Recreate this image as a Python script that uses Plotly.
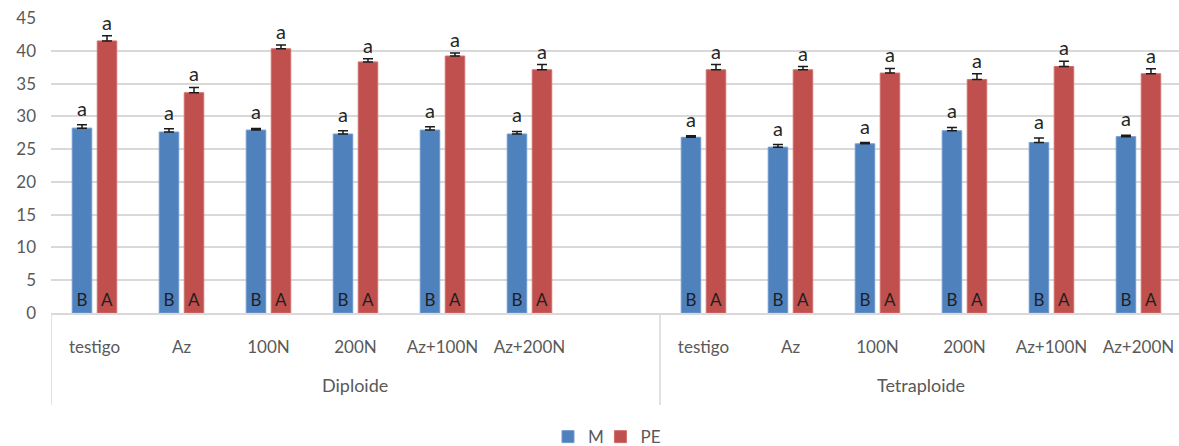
import plotly.graph_objects as go

# Treatments within each ploidy group
treatments = ["testigo", "Az", "100N", "200N", "Az+100N", "Az+200N"]
groups = ["Diploide", "Tetraploide"]
series_names = ["M", "PE"]

# Means and standard errors per treatment
m_diploide = [28.2, 27.6, 27.9, 27.3, 27.9, 27.3]
m_diploide_err = [0.5, 0.5, 0.25, 0.5, 0.5, 0.4]
pe_diploide = [41.5, 33.6, 40.3, 38.3, 39.2, 37.1]
pe_diploide_err = [0.8, 0.8, 0.6, 0.5, 0.45, 0.8]

m_tetraploide = [26.8, 25.3, 25.8, 27.8, 26.0, 26.9]
m_tetraploide_err = [0.25, 0.4, 0.2, 0.5, 0.7, 0.2]
pe_tetraploide = [37.1, 37.1, 36.6, 35.6, 37.6, 36.5]
pe_tetraploide_err = [0.8, 0.5, 0.7, 0.9, 0.8, 0.75]

# Significance letters: within treatment (lower case) and between series (upper case)
m_letters = ["a"] * 12
pe_letters = ["a"] * 12
m_group_letter = "B"
pe_group_letter = "A"

# Category slots: six treatments, one empty slot, six treatments
positions = list(range(0, 6)) + list(range(7, 13))
tick_text = treatments + treatments

m_vals = m_diploide + m_tetraploide
m_err = m_diploide_err + m_tetraploide_err
pe_vals = pe_diploide + pe_tetraploide
pe_err = pe_diploide_err + pe_tetraploide_err

BLUE = "#4F81BD"
RED = "#C0504D"
GRID = "#d9d9d9"
AXIS_TXT = "#595959"
FONT = "Lato"

fig = go.Figure()

for name, vals, errs, color, line_color, letter, leg in [
    ("M", m_vals, m_err, BLUE, "#6f9ad0", m_group_letter, "legend"),
    ("PE", pe_vals, pe_err, RED, "#d06f6c", pe_group_letter, "legend2"),
]:
    fig.add_trace(go.Bar(
        name=name,
        legend=leg,
        x=positions,
        y=vals,
        marker=dict(color=color, line=dict(color=line_color, width=1)),
        # upper error bar only, as a "T" on top of each bar
        error_y=dict(type="data", array=errs, arrayminus=[0] * len(errs),
                     symmetric=False, visible=True,
                     color="#1a1a1a", thickness=1.5, width=5),
        text=[letter] * len(vals),
        textposition="inside",
        insidetextanchor="start",
        textangle=0,
        constraintext="none",
        textfont=dict(family=FONT, size=17, color="#1f1f1f"),
        hoverinfo="x+y",
    ))

# Lower-case letters above each error bar
bar_shift = 12.5
for i, x in enumerate(positions):
    fig.add_annotation(x=x, y=m_vals[i] + m_err[i], text=m_letters[i],
                       xshift=-bar_shift, yshift=17, yanchor="middle",
                       showarrow=False,
                       font=dict(family=FONT, size=20, color="#262626"))
    fig.add_annotation(x=x, y=pe_vals[i] + pe_err[i], text=pe_letters[i],
                       xshift=bar_shift, yshift=14, yanchor="middle",
                       showarrow=False,
                       font=dict(family=FONT, size=20, color="#262626"))

# Group labels under the treatment labels
group_centers = [3, 9.5]
for g, cx in zip(groups, group_centers):
    fig.add_annotation(x=cx, y=-0.245, xref="x", yref="paper", text=g,
                       showarrow=False, yanchor="middle",
                       font=dict(family=FONT, size=18, color=AXIS_TXT))

# Group dividers of the category axis
for xd in [-0.5, 6.5, 12.5]:
    fig.add_shape(type="line", xref="x", yref="paper",
                  x0=xd, x1=xd, y0=0, y1=-0.312,
                  line=dict(color=GRID, width=1.5))

legend_style = dict(orientation="h", xanchor="left",
                    yref="container", y=0.02, yanchor="middle",
                    bgcolor="rgba(0,0,0,0)",
                    font=dict(family=FONT, size=17, color=AXIS_TXT),
                    itemwidth=30)

fig.update_layout(
    width=1179, height=446,
    margin=dict(l=51, r=0, t=18, b=133, autoexpand=False),
    paper_bgcolor="white", plot_bgcolor="white",
    barmode="group", bargap=0.425, bargroupgap=0.22,
    font=dict(family=FONT, size=16, color=AXIS_TXT),
    showlegend=True,
    legend=dict(x=0.4406, **legend_style),
    legend2=dict(x=0.4871, **legend_style),
    xaxis=dict(range=[-0.5, 12.466], tickmode="array", tickvals=positions,
               ticktext=tick_text, showgrid=False, zeroline=False,
               showline=True, linecolor=GRID, linewidth=1.5,
               ticks="", ticklabelstandoff=18, automargin=False,
               tickfont=dict(family=FONT, size=17, color=AXIS_TXT)),
    yaxis=dict(range=[0, 45], dtick=5, showgrid=True, gridcolor=GRID,
               gridwidth=1.5, zeroline=False, showline=False,
               ticks="", ticklabelstandoff=14, automargin=False,
               tickfont=dict(family=FONT, size=17, color=AXIS_TXT)),
)

fig.write_html("out.html")
